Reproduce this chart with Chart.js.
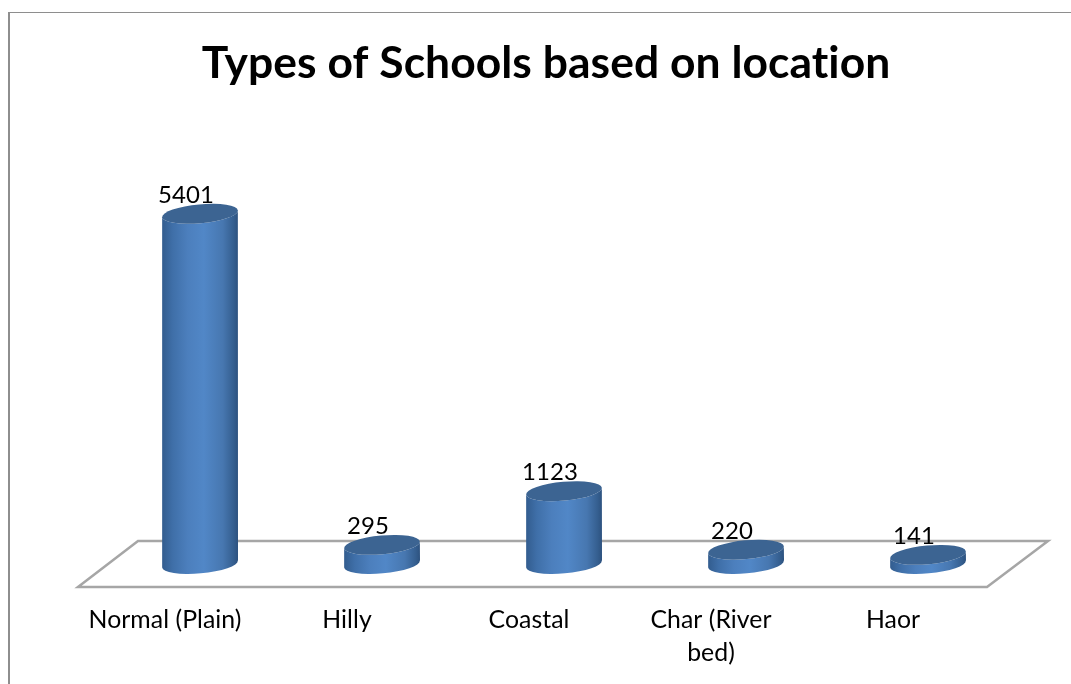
<!DOCTYPE html>
<html>
<head>
<meta charset="utf-8">
<style>
html,body{margin:0;padding:0;background:#fff;overflow:hidden;width:1071px;height:684px}
#frame{position:absolute;left:8px;top:12px;width:1100px;height:700px;border-left:2px solid #8e8e8e;border-top:1.5px solid #8e8e8e;box-sizing:border-box}
#c{position:absolute;left:8px;top:12px}
</style>
<script src="https://cdn.jsdelivr.net/npm/chart.js@4"></script>
</head>
<body>
<div id="frame"></div>
<canvas id="c" width="1076" height="672" style="width:1076px;height:672px"></canvas>
<script>
const titleText = "Types of Schools based on location";
const categories = ["Normal (Plain)", "Hilly", "Coastal", ["Char (River", "bed)"], "Haor"];
const schools = [5401, 295, 1123, 220, 141];
const yMax = 6000;
const FONT = "Lato";

const cylinder = {
  id: "cylinder",
  beforeDraw(chart) {
    chart.ctx.letterSpacing = "0.05px";
  },
  beforeDatasetsDraw(chart) {
    const a = chart.chartArea, ctx = chart.ctx, y0 = chart.scales.y.getPixelForValue(0);
    ctx.save();
    ctx.lineWidth = 2.5;
    ctx.strokeStyle = "#a6a6a6";
    ctx.fillStyle = "#ffffff";
    ctx.beginPath();
    ctx.moveTo(a.left - 31, y0 + 23);
    ctx.lineTo(a.left + 29, y0 - 23);
    ctx.lineTo(a.right + 29, y0 - 23);
    ctx.lineTo(a.right - 32, y0 + 23);
    ctx.closePath();
    ctx.fill();
    ctx.stroke();
    ctx.restore();
  },
  beforeDatasetDraw(chart, args) {
    const ctx = chart.ctx, tilt = -0.09, ry = 9.4;
    args.meta.data.forEach((bar) => {
      const rx = bar.width / 2, dy = Math.sin(tilt) * rx;
      const g = ctx.createLinearGradient(bar.x - rx, 0, bar.x + rx, 0);
      g.addColorStop(0, "#325c8e");
      g.addColorStop(0.14, "#3f6fa8");
      g.addColorStop(0.34, "#4c7fbd");
      g.addColorStop(0.55, "#5187c7");
      g.addColorStop(0.8, "#4777b0");
      g.addColorStop(0.94, "#355f90");
      g.addColorStop(1, "#2d527f");
      ctx.save();
      ctx.fillStyle = g;
      ctx.beginPath();
      ctx.ellipse(bar.x, bar.y, rx, ry, tilt, Math.PI, 0, true);
      ctx.lineTo(bar.x + rx, bar.base + dy);
      ctx.ellipse(bar.x, bar.base, rx, ry, tilt, 0, Math.PI, false);
      ctx.closePath();
      ctx.fill();
      ctx.fillStyle = "#3c6492";
      ctx.beginPath();
      ctx.ellipse(bar.x, bar.y, rx, ry, tilt, 0, Math.PI * 2);
      ctx.fill();
      ctx.restore();
    });
    return false;
  },
  afterDatasetsDraw(chart) {
    const ctx = chart.ctx;
    ctx.save();
    ctx.fillStyle = "#000";
    ctx.font = "24px " + FONT;
    ctx.textAlign = "center";
    ctx.textBaseline = "middle";
    chart.getDatasetMeta(0).data.forEach((bar, i) => {
      ctx.fillText(String(schools[i]), bar.x - 14, bar.y - 18.5);
    });
    ctx.restore();
  }
};

new Chart(document.getElementById("c"), {
  type: "bar",
  data: {
    labels: categories,
    datasets: [{ label: "Schools", data: schools, backgroundColor: "#4f81bd", barPercentage: 1, categoryPercentage: 76 / 182, yAxisID: "y" }]
  },
  options: {
    responsive: false,
    animation: false,
    devicePixelRatio: 1,
    layout: { padding: 0 },
    plugins: {
      legend: { display: false },
      tooltip: { enabled: false },
      title: {
        display: true,
        text: titleText,
        color: "#000",
        font: { family: FONT, size: 44.4, weight: "bold", lineHeight: 1.2 },
        padding: { top: 25, bottom: 84.7 }
      }
    },
    scales: {
      x: {
        afterFit(s) { s.height = 120; },
        grid: { display: false },
        border: { display: false },
        ticks: {
          color: "#000",
          font: { family: FONT, size: 24.8, lineHeight: 1.33 },
          padding: 32,
          labelOffset: -35,
          maxRotation: 0,
          autoSkip: false
        }
      },
      y: {
        position: "left", min: 0, max: yMax,
        afterFit(s) { s.width = 101; },
        grid: { display: false }, border: { display: false }, ticks: { display: false }
      },
      yRight: {
        position: "right", min: 0, max: yMax,
        afterFit(s) { s.width = 65; },
        grid: { display: false }, border: { display: false }, ticks: { display: false }
      }
    }
  },
  plugins: [cylinder]
});
</script>
</body>
</html>
